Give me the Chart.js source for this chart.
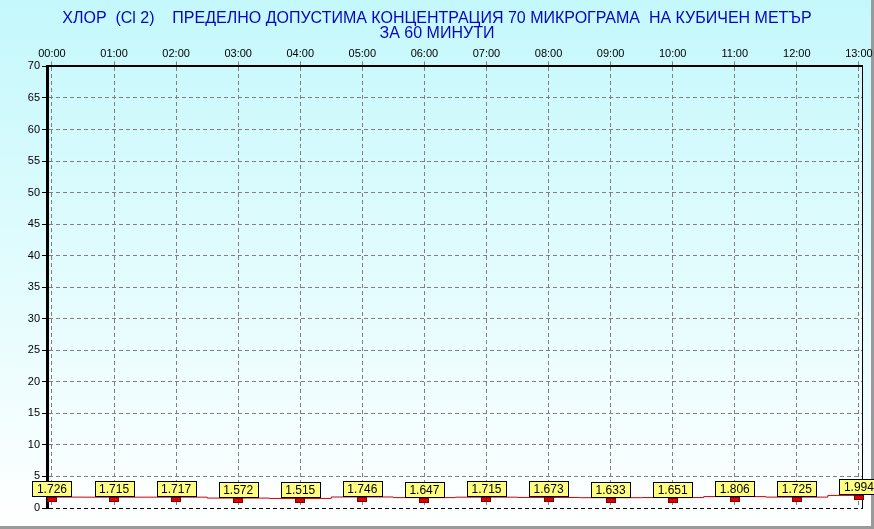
<!DOCTYPE html>
<html>
<head>
<meta charset="utf-8">
<script src="https://cdn.jsdelivr.net/npm/chart.js@4/dist/chart.umd.min.js"></script>
<style>
    body { margin: 0; background: #fff; }
    #wrap { width: 874px; height: 529px; }
</style>
</head>
<body>
<div id="wrap"><canvas id="grafico" width="874" height="529"></canvas></div>
<script>
const titulo = [
    'ХЛОР  (Cl 2)    ПРЕДЕЛНО ДОПУСТИМА КОНЦЕНТРАЦИЯ 70 МИКРОГРАМА  НА КУБИЧЕН МЕТЪР',
    'ЗА 60 МИНУТИ'
];
const horas = ['00:00', '01:00', '02:00', '03:00', '04:00', '05:00', '06:00',
               '07:00', '08:00', '09:00', '10:00', '11:00', '12:00', '13:00'];
const valores = [1.726, 1.715, 1.717, 1.572, 1.515, 1.746, 1.647,
                 1.715, 1.673, 1.633, 1.651, 1.806, 1.725, 1.994];
const yTicks = [0, 5, 10, 15, 20, 25, 30, 35, 40, 45, 50, 55, 60, 65, 70];

// fundo em degradê + moldura cinza
const fundo = {
    id: 'fundo',
    beforeDraw(chart) {
        const ctx = chart.ctx;
        const g = ctx.createLinearGradient(0, 0, 0, chart.height);
        g.addColorStop(0, '#c4f8fc');
        g.addColorStop(1, '#ffffff');
        ctx.save();
        ctx.fillStyle = g;
        ctx.fillRect(0, 0, chart.width, chart.height);
        ctx.fillStyle = '#9a9a9a';
        ctx.fillRect(chart.width - 3, 0, 3, chart.height);
        ctx.fillRect(0, chart.height - 3, chart.width, 3);
        ctx.restore();
    }
};

// caixinhas amarelas com o valor + marcador vermelho
const rotulos = {
    id: 'rotulos',
    afterDatasetsDraw(chart) {
        const ctx = chart.ctx;
        const meta = chart.getDatasetMeta(0);
        ctx.save();
        ctx.font = '12px "Liberation Sans", Arial, sans-serif';
        ctx.textAlign = 'center';
        ctx.textBaseline = 'middle';
        meta.data.forEach((pt, i) => {
            const txt = valores[i].toFixed(3);
            const w = Math.round(ctx.measureText(txt).width) + 9;
            const h = 15;
            const x = Math.round(pt.x - w / 2) + 0.5;
            const y = Math.round(pt.y) - h - 0.5;
            ctx.fillStyle = '#ffff80';
            ctx.fillRect(x, y, w, h);
            ctx.strokeStyle = '#000';
            ctx.lineWidth = 1;
            ctx.strokeRect(x, y, w, h);
            ctx.fillStyle = '#000';
            ctx.fillText(txt, pt.x, y + h / 2 + 0.5);
            // marcador
            const my = Math.round(pt.y) + 0.5;
            ctx.fillStyle = '#e00000';
            ctx.fillRect(Math.round(pt.x) - 4.5, my, 9, 4);
            ctx.strokeStyle = '#800000';
            ctx.strokeRect(Math.round(pt.x) - 4.5, my, 9, 4);
        });
        ctx.restore();
    }
};

const fonteEixo = { family: '"Liberation Sans", Arial, sans-serif', size: 11 };

const ctx = document.getElementById('grafico').getContext('2d');
new Chart(ctx, {
    type: 'line',
    data: {
        datasets: [{
            data: valores.map((v, i) => ({ x: i, y: v })),
            borderColor: '#d00000',
            borderWidth: 1,
            pointRadius: 0,
            stepped: 'middle',
            fill: false
        }]
    },
    options: {
        responsive: false,
        animation: false,
        layout: { padding: { left: 0, right: 0, top: 0, bottom: 21 } },
        plugins: {
            legend: { display: false },
            tooltip: { enabled: false },
            title: {
                display: true,
                text: titulo,
                color: '#0606c0',
                font: { family: '"Liberation Sans", Arial, sans-serif', size: 16, weight: 'normal', lineHeight: 0.95 },
                padding: { top: 11, bottom: 0 }
            }
        },
        scales: {
            x: {
                type: 'linear',
                position: 'top',
                min: -0.08,
                max: 13.05,
                afterBuildTicks: s => { s.ticks = horas.map((_, i) => ({ value: i })); },
                afterFit: s => { s.height = 66 - 11 - 30; },
                ticks: {
                    callback: v => horas[v],
                    color: '#000',
                    font: fonteEixo,
                    padding: 1,
                    maxRotation: 0
                },
                grid: { color: '#808080', tickLength: 5 },
                border: { color: '#000', width: 2, dash: [4, 3] }
            },
            y: {
                min: 0,
                max: 70,
                afterBuildTicks: s => { s.ticks = yTicks.map(v => ({ value: v })); },
                afterFit: s => { s.width = 47; },
                ticks: { color: '#000', font: fonteEixo, padding: 2 },
                grid: {
                    color: c => c.tick && c.tick.value === 0 ? '#000' : '#808080',
                    tickColor: '#000',
                    tickLength: 5
                },
                border: { color: '#000', width: 3, dash: [4, 3] }
            },
            y2: {
                position: 'right',
                min: 0,
                max: 70,
                afterFit: s => { s.width = 12; },
                ticks: { display: false },
                grid: { drawOnChartArea: false, drawTicks: false },
                border: { color: '#000', width: 1 }
            }
        }
    },
    plugins: [fundo, rotulos]
});
</script>
</body>
</html>
